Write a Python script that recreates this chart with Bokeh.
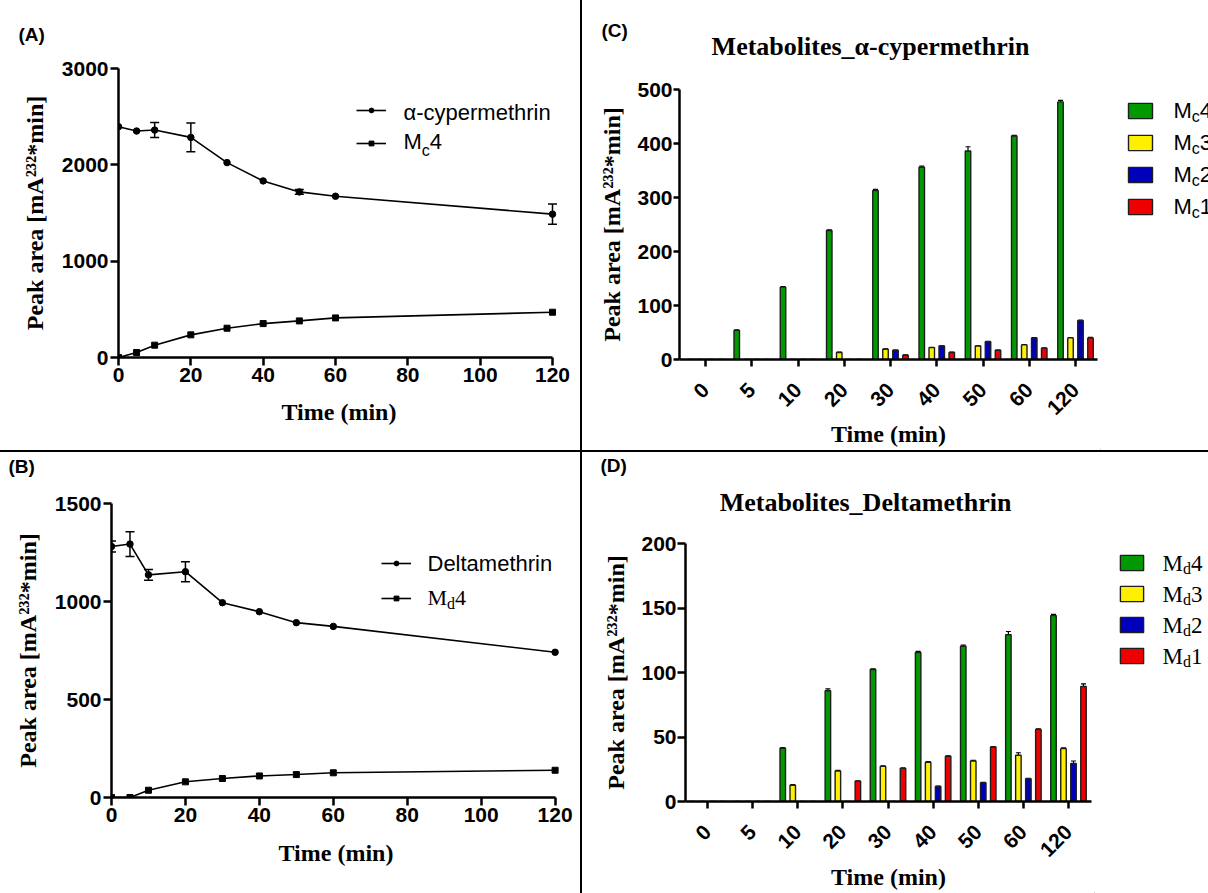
import math
from bokeh.plotting import figure
from bokeh.models import (ColumnDataSource, Range1d, FixedTicker, Label, Legend,
                          LegendItem, Whisker, TeeHead, Div)
from bokeh.layouts import row, column
from bokeh.embed import file_html
from bokeh.resources import INLINE

# ---------------- data ----------------
time_min = [0, 5, 10, 20, 30, 40, 50, 60, 120]

# (A) alpha-cypermethrin degradation and Mc4 formation
cyper = [2396, 2351, 2361, 2285, 2023, 1833, 1719, 1674, 1488]
cyper_err = [0, 0, 78, 150, 0, 0, 25, 0, 105]
mc4_line = [0, 52, 128, 235, 304, 352, 380, 411, 470]

# (B) deltamethrin degradation and Md4 formation
delta = [1281, 1293, 1136, 1152, 994, 948, 892, 873, 741]
delta_err = [28, 63, 27, 51, 0, 0, 0, 0, 0]
md4_line = [0, 0, 37, 80, 97, 110, 117, 126, 139]

# (C) metabolites of alpha-cypermethrin
cats = ["0", "5", "10", "20", "30", "40", "50", "60", "120"]
mc4 = [0, 54, 134, 239, 313, 356, 386, 414, 477]
mc4_err = [0, 1, 1, 1, 2, 2, 8, 1, 3]
mc3 = [0, 0, 0, 13, 19, 22, 25, 27, 40]
mc3_err = [0, 0, 0, 0.5, 0.5, 0.5, 0.5, 0.5, 0.5]
mc2 = [0, 0, 0, 0, 17, 25, 33, 40, 72]
mc2_err = [0, 0, 0, 0, 0.5, 0.5, 0.5, 0.5, 1]
mc1 = [0, 0, 0, 0, 8, 13, 17, 21, 40]
mc1_err = [0, 0, 0, 0, 0.5, 0.5, 0.5, 0.5, 1]

# (D) metabolites of deltamethrin
md4 = [0, 0, 41.3, 85.8, 102.3, 115.5, 120.4, 129.3, 144.1]
md4_err = [0, 0, 0.5, 1.5, 0.5, 0.8, 0.8, 2.5, 1]
md3 = [0, 0, 12.6, 23.7, 27.2, 30.4, 31.4, 35.8, 41.0]
md3_err = [0, 0, 0.5, 0.5, 0.5, 0.5, 0.5, 2.0, 0.5]
md2 = [0, 0, 0, 0, 0, 11.6, 14.6, 17.6, 29.4]
md2_err = [0, 0, 0, 0, 0, 0.3, 0.3, 0.3, 2.0]
md1 = [0, 0, 0, 15.8, 25.7, 35.1, 42.3, 55.9, 89.2]
md1_err = [0, 0, 0, 0.3, 0.3, 0.3, 0.3, 0.5, 2.0]

series_c = ["Mc4", "Mc3", "Mc2", "Mc1"]
series_d = ["Md4", "Md3", "Md2", "Md1"]
bar_colors = ["#009a00", "#fff000", "#0000bb", "#ee0000"]

SANS = "Liberation Sans"
SERIF = "Liberation Serif"
YTITLE = "Peak area [mA\u00b2\u00b3\u00b2*min]"
XTITLE = "Time (min)"


def no_align(p):
    try:
        p.frame_align = False
    except Exception:
        pass


def make_fig(w, h, xr, yr, mbl, mbr, mbt, mbb):
    p = figure(width=w, height=h, x_range=xr, y_range=yr,
               output_backend="svg", toolbar_location=None,
               min_border_left=mbl, min_border_right=mbr,
               min_border_top=mbt, min_border_bottom=mbb)
    no_align(p)
    p.grid.visible = False
    p.outline_line_color = None
    p.background_fill_color = "white"
    p.border_fill_color = "white"
    for ax in (p.xaxis, p.yaxis):
        ax.axis_line_width = 2.5
        ax.axis_line_color = "black"
        ax.major_tick_line_width = 2.5
        ax.major_tick_line_color = "black"
        ax.major_tick_in = 0
        ax.major_tick_out = 8
        ax.minor_tick_line_color = None
        ax.major_label_text_font = SANS
        ax.major_label_text_font_style = "bold"
        ax.major_label_text_font_size = "21px"
        ax.major_label_text_color = "black"
        ax.major_label_standoff = 2
        ax.axis_label_text_font = SERIF
        ax.axis_label_text_font_style = "bold"
        ax.axis_label_text_font_size = "24px"
        ax.axis_label_text_color = "black"
    p.yaxis.axis_label = YTITLE
    p.xaxis.axis_label = XTITLE
    return p


def blank_fig(w, h):
    p = figure(width=w, height=h, x_range=Range1d(0, w), y_range=Range1d(0, h),
               output_backend="svg", toolbar_location=None,
               x_axis_location=None, y_axis_location=None, min_border=0)
    no_align(p)
    p.grid.visible = False
    p.outline_line_color = None
    p.background_fill_color = "white"
    p.border_fill_color = "white"
    return p


def lab(p, x, y, text, font, size, style="normal", align="left", units="data"):
    # y is the vertical centre of the text
    p.add_layout(Label(x=x, y=y, x_units=units, y_units=units, text=text,
                       text_font=font, text_font_size=size, text_font_style=style,
                       text_align=align, text_baseline="middle", text_color="black"))


def glyph_legend(p, items, loc, gw, gh, spacing):
    lg = Legend(items=[LegendItem(label=" ", renderers=r) for r in items],
                location=loc, orientation="vertical", glyph_width=gw, glyph_height=gh,
                spacing=spacing, label_height=1, label_width=1, label_standoff=0,
                label_text_font_size="1px", padding=0, margin=0,
                border_line_color=None, background_fill_alpha=0)
    p.add_layout(lg)


def line_panel(w, h, fl, fr, ft, fb, x0px, x120px, ytop_val, yticks,
               main, main_err, metab):
    sx = (x120px - x0px) / 120.0
    xr = Range1d(0, 120 + (fr - x120px) / sx)
    yr = Range1d(0, ytop_val)
    p = make_fig(w, h, xr, yr, fl, w - fr, ft, h - fb)
    p.xaxis.bounds = (0, 120)
    p.xaxis.ticker = FixedTicker(ticks=[0, 20, 40, 60, 80, 100, 120])
    p.yaxis.ticker = FixedTicker(ticks=yticks)
    p.yaxis.axis_label_standoff = 11
    p.xaxis.axis_label_standoff = 14

    r1 = p.line(time_min, main, line_color="black", line_width=1.6)
    r2 = p.scatter(time_min, main, marker="circle", size=6.5, color="black")
    r3 = p.line(time_min, metab, line_color="black", line_width=1.6)
    r4 = p.scatter(time_min, metab, marker="square", size=6, color="black")

    keep = [i for i, e in enumerate(main_err) if e > 0]
    esrc = ColumnDataSource(dict(x=[time_min[i] for i in keep],
                                 lo=[main[i] - main_err[i] for i in keep],
                                 hi=[main[i] + main_err[i] for i in keep]))
    p.add_layout(Whisker(source=esrc, base="x", lower="lo", upper="hi",
                         dimension="height", line_width=1.5, line_color="black",
                         upper_head=TeeHead(size=9, line_width=1.5, line_color="black"),
                         lower_head=TeeHead(size=9, line_width=1.5, line_color="black")))
    return p, [r1, r2], [r3, r4]


def bar_panel(w, h, fl, fr, ft, fb, first_px, last_px, ytop, yticks, series, errs,
              bar_px=5.5, pitch_px=10.0):
    n = len(cats)
    step = (last_px - first_px) / (n - 1)
    xr = Range1d(-(first_px - fl) / step, (n - 1) + (fr - last_px) / step)
    yr = Range1d(0, ytop)
    p = make_fig(w, h, xr, yr, fl, w - fr, ft, h - fb)
    idx = list(range(n))
    p.xaxis.ticker = FixedTicker(ticks=idx)
    p.xaxis.major_label_overrides = {i: c for i, c in zip(idx, cats)}
    p.xaxis.major_label_orientation = math.pi / 4
    p.xaxis.major_tick_out = 7
    p.xaxis.major_label_standoff = 20
    p.xaxis.axis_label_standoff = -3
    p.yaxis.ticker = FixedTicker(ticks=yticks)
    p.yaxis.major_label_standoff = 1
    p.yaxis.axis_label_standoff = 9
    bw = bar_px / step
    pitch = pitch_px / step
    for k, (vals, er, col) in enumerate(zip(series, errs, bar_colors)):
        off = (k - 1.5) * pitch
        xs = [i + off for i in idx]
        src = ColumnDataSource(dict(x=xs, top=vals))
        p.vbar(x="x", top="top", width=bw, source=src, fill_color=col,
               line_color="#1e1e1e", line_width=1.4)
        keep = [i for i, e in enumerate(er) if e > 0]
        wsrc = ColumnDataSource(dict(x=[xs[i] for i in keep], lo=[vals[i] for i in keep],
                                     hi=[vals[i] + er[i] for i in keep]))
        p.add_layout(Whisker(source=wsrc, base="x", lower="lo", upper="hi",
                             dimension="height", line_width=1.2, line_color="black",
                             upper_head=TeeHead(size=5, line_width=1.2, line_color="black"),
                             lower_head=None))
    return p


def bar_legend_fig(w, h, names, loc, gw, gh, spacing, text_x, centers, font,
                   size, sub_size, m_adv, sub_dy):
    lf = blank_fig(w, h)
    rends = []
    for col in bar_colors:
        # legend proxy: a zero-height bar far outside the visible range of this strip
        src = ColumnDataSource(dict(x=[-10000.0], top=[0.0]))
        r = lf.vbar(x="x", top="top", width=1, source=src, fill_color=col,
                    line_color="#1e1e1e", line_width=1.4)
        rends.append([r])
    glyph_legend(lf, rends, loc, gw, gh, spacing)
    sub_adv = 0.5 * float(sub_size.replace("px", ""))
    for name, yc in zip(names, centers):
        lab(lf, text_x, yc, name[0], font, size)
        lab(lf, text_x + m_adv, yc - sub_dy, name[1], font, sub_size)
        lab(lf, text_x + m_adv + sub_adv, yc, name[2], font, size)
    return lf


# ---------------- panel A (x 0..580, y 0..450) ----------------
headA = blank_fig(580, 56)
lab(headA, 18, 22, "(A)", SANS, "19px", "bold")

pA, ca, ma = line_panel(580, 394, fl=118, fr=559, ft=12, fb=301,
                        x0px=118, x120px=552, ytop_val=3000,
                        yticks=[0, 1000, 2000, 3000],
                        main=cyper, main_err=cyper_err, metab=mc4_line)
glyph_legend(pA, [ca, ma], (238, 208), 30, 12, 21)
lab(pA, 285, 245, "\u03b1-cypermethrin", SANS, "22px", units="screen")
lab(pA, 285, 216, "M", SANS, "22px", units="screen")
lab(pA, 303.3, 207.5, "c", SANS, "16px", units="screen")
lab(pA, 311.3, 216, "4", SANS, "22px", units="screen")

# ---------------- panel B (x 0..580, y 452..893) ----------------
headB = blank_fig(580, 40)
lab(headB, 8, 26, "(B)", SANS, "19px", "bold")

pB, cb, mb = line_panel(580, 401, fl=111, fr=560, ft=11, fb=305,
                        x0px=111, x120px=554.6, ytop_val=1500,
                        yticks=[0, 500, 1000, 1500],
                        main=delta, main_err=delta_err, metab=md4_line)
pB.xaxis.axis_label_standoff = 15
glyph_legend(pB, [cb, mb], (270, 193), 30, 12, 23)
lab(pB, 316, 234, "Deltamethrin", SANS, "22px", units="screen")
lab(pB, 316, 200, "M", SERIF, "22px", units="screen")
lab(pB, 335.6, 194, "d", SERIF, "16px", units="screen")
lab(pB, 343.6, 200, "4", SERIF, "22px", units="screen")

# ---------------- panel C (x 582..1208, y 0..450) ----------------
headC = blank_fig(626, 62)
lab(headC, 19, 32, "(C)", SANS, "19px", "bold")
lab(headC, 288, 16, "Metabolites_\u03b1-cypermethrin", SERIF, "26px", "bold",
    align="center")

pC = bar_panel(518, 388, fl=97, fr=515, ft=27, fb=304, first_px=123, last_px=493,
               ytop=500, yticks=[0, 100, 200, 300, 400, 500],
               series=[mc4, mc3, mc2, mc1],
               errs=[mc4_err, mc3_err, mc2_err, mc1_err])
pC.yaxis.major_tick_out = 6

legC = bar_legend_fig(108, 388, series_c, (25, 234), 30, 19, 13, 73,
                      [340.5, 308.5, 276.5, 244.5], SANS, "22px", "16px", 18.3, 6)

# ---------------- panel D (x 582..1208, y 452..893) ----------------
headD = blank_fig(626, 66)
lab(headD, 18, 53, "(D)", SANS, "19px", "bold")
lab(headD, 283, 16, "Metabolites_Deltamethrin", SERIF, "26px", "bold", align="center")

pD = bar_panel(512, 375, fl=103, fr=509, ft=25, fb=294, first_px=125, last_px=486,
               ytop=200, yticks=[0, 50, 100, 150, 200],
               series=[md4, md3, md2, md1],
               errs=[md4_err, md3_err, md2_err, md1_err])
pD.xaxis.axis_label_standoff = -2

legD = bar_legend_fig(114, 375, series_d, (23, 228), 29, 19, 12, 68,
                      [330, 299, 268, 237], SERIF, "23px", "16px", 20.4, 5)


# ---------------- separators & layout ----------------
def sep(w, h):
    return Div(text="", width=w, height=h, margin=(0, 0, 0, 0),
               styles={"background-color": "black"})


quadA = column(headA, pA, spacing=0)
quadB = column(headB, pB, spacing=0)
quadC = column(headC, row(pC, legC, spacing=0), spacing=0)
quadD = column(headD, row(pD, legD, spacing=0), spacing=0)

layout = column(
    row(quadA, sep(2, 450), quadC, spacing=0),
    sep(1208, 2),
    row(quadB, sep(2, 441), quadD, spacing=0),
    spacing=0,
)

open("out.html", "w").write(file_html(layout, INLINE))
